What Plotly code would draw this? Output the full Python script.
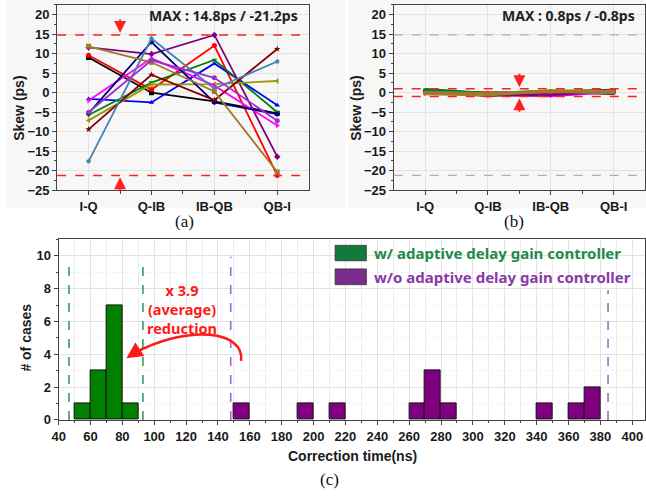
import plotly.graph_objects as go

W, H = 646, 501

# ---------------- data ----------------
pairs = ["I-Q", "Q-IB", "IB-QB", "QB-I"]
series_names = ["black", "red", "blue", "green", "purple", "olive",
                "magenta", "navy", "maroon", "steelblue", "tan", "violet"]
series_colors = ["#000000", "#ff0000", "#0000ff", "#008000", "#800080", "#9a9a00",
                 "#ff00ff", "#000080", "#800000", "#4682b4", "#a0782a", "#9932cc"]
series_symbols = ["square", "circle", "triangle-up", "triangle-down", "diamond", "triangle-left",
                  "triangle-right", "hexagon", "star", "pentagon", "square", "circle"]

skew_before = {
    "black":     [9.0, 0.0, -2.2, -5.3],
    "red":       [9.6, 0.8, 12.1, -21.2],
    "blue":      [-1.6, -2.5, 7.5, -3.2],
    "green":     [-5.7, 2.6, 8.4, -5.0],
    "purple":    [11.6, 9.9, 14.8, -16.4],
    "olive":     [-7.1, 2.1, 2.2, 3.0],
    "magenta":   [-2.0, 8.8, 1.8, -8.4],
    "navy":      [-5.3, 13.0, -2.5, -5.5],
    "maroon":    [-9.4, 4.6, -1.9, 11.2],
    "steelblue": [-17.6, 13.9, 1.0, 8.0],
    "tan":       [11.9, 7.8, 0.3, -20.3],
    "violet":    [-5.0, 8.3, 3.8, -7.2],
}
skew_after = {
    "black":     [0.2, -0.3, 0.1, 0.3],
    "red":       [0.1, -0.1, -0.2, 0.2],
    "blue":      [0.5, -0.4, 0.3, 0.0],
    "navy":      [0.6, -0.3, 0.2, 0.6],
    "maroon":    [0.3, -0.7, 0.3, -0.2],
    "violet":    [0.0, -0.5, -0.3, 0.5],
    "magenta":   [-0.3, -0.4, -0.8, 0.3],
    "purple":    [0.4, -0.6, -0.5, 0.5],
    "green":     [0.8, -0.2, 0.4, 0.1],
    "steelblue": [0.1, -0.2, 0.4, 0.0],
    "olive":     [-0.2, -0.5, 0.5, 0.4],
    "tan":       [-0.1, -0.3, 0.3, 0.2],
}
max_before = [14.8, -21.2]
max_after = [0.8, -0.8]
after_band = [1.0, -1.0]

bin_width = 10
with_bins = [50, 60, 70, 80]
with_counts = [1, 3, 7, 1]
without_bins = [150, 190, 210, 260, 270, 280, 340, 360, 370]
without_counts = [1, 1, 1, 1, 3, 1, 1, 1, 2]
with_limits = [46.5, 92.9]
without_limits = [148.0, 384.8]

# ---------------- figure ----------------
fig = go.Figure()
xi = list(range(len(pairs)))

for name, col, sym in zip(series_names, series_colors, series_symbols):
    fig.add_trace(go.Scatter(x=xi, y=skew_before[name], mode="lines+markers",
                             line=dict(color=col, width=1.8),
                             marker=dict(color=col, size=5, symbol=sym),
                             xaxis="x", yaxis="y", showlegend=False))
for name in skew_after:
    col = series_colors[series_names.index(name)]
    sym = series_symbols[series_names.index(name)]
    fig.add_trace(go.Scatter(x=xi, y=skew_after[name], mode="lines+markers",
                             line=dict(color=col, width=3),
                             marker=dict(color=col, size=4, symbol=sym),
                             xaxis="x2", yaxis="y2", showlegend=False))

fig.add_trace(go.Bar(x=[b + bin_width / 2 for b in with_bins], y=with_counts, width=bin_width,
                     marker=dict(color="#008000", line=dict(color="#111", width=1)),
                     xaxis="x3", yaxis="y3", showlegend=False))
fig.add_trace(go.Bar(x=[b + bin_width / 2 for b in without_bins], y=without_counts, width=bin_width,
                     marker=dict(color="#800080", line=dict(color="#111", width=1)),
                     xaxis="x3", yaxis="y3", showlegend=False))

tickfont = dict(family="Liberation Sans", size=13, color="#1a1a1a", weight="bold")
gridc = "#e3e3e3"
linec = "#444"


def px_x(p):
    return p / W


def px_y(p):
    return 1 - p / H


skew_x = dict(range=[-0.5, 3.5], tickvals=xi, ticktext=pairs, showgrid=True, gridcolor=gridc,
              zeroline=False, showline=True, linecolor=linec, linewidth=1.2, mirror=True,
              ticks="outside", ticklen=4, tickcolor=linec, tickfont=tickfont,
              minor=dict(tickvals=[0.5, 1.5, 2.5], ticks="outside", ticklen=3, tickcolor=linec, showgrid=False))
skew_y = dict(range=[-25, 22.5], tickvals=list(range(-25, 21, 5)), showgrid=True, gridcolor=gridc,
              zeroline=False, showline=True, linecolor=linec, linewidth=1.2, mirror=True,
              ticks="outside", ticklen=4, tickcolor=linec, tickfont=tickfont,
              minor=dict(dtick=2.5, tick0=0, ticks="outside", ticklen=2, tickcolor=linec, showgrid=False))

fig.update_layout(
    width=W, height=H, margin=dict(l=0, r=0, t=0, b=0),
    paper_bgcolor="white", plot_bgcolor="white", barmode="overlay", bargap=0,
    xaxis=dict(domain=[px_x(50.7), px_x(305)], anchor="y", **skew_x),
    yaxis=dict(domain=[px_y(193.3), px_y(5)], anchor="x", **skew_y),
    xaxis2=dict(domain=[px_x(391), px_x(645)], anchor="y2", **skew_x),
    yaxis2=dict(domain=[px_y(193.3), px_y(5)], anchor="x2", **skew_y),
    xaxis3=dict(domain=[px_x(52.2), px_x(645)], anchor="y3", range=[40, 408],
                tickvals=list(range(40, 401, 20)), showgrid=True, gridcolor=gridc,
                zeroline=False, showline=True, linecolor=linec, linewidth=1.2, mirror=True,
                ticks="outside", ticklen=4, tickcolor=linec, tickfont=tickfont,
                minor=dict(dtick=10, tick0=0, ticks="outside", ticklen=2, tickcolor=linec,
                           showgrid=True, gridcolor="#ececec")),
    yaxis3=dict(domain=[px_y(426.7), px_y(243.3)], anchor="x3", range=[0, 11],
                tickvals=list(range(0, 11, 2)), showgrid=True, gridcolor=gridc,
                zeroline=False, showline=True, linecolor=linec, linewidth=1.2, mirror=True,
                ticks="outside", ticklen=4, tickcolor=linec, tickfont=tickfont,
                minor=dict(dtick=1, tick0=0, ticks="outside", ticklen=2, tickcolor=linec,
                           showgrid=True, gridcolor="#efefef", griddash="dot")),
)

shapes = []
# light panel backgrounds for (a) and (b)
shapes.append(dict(type="rect", xref="paper", yref="paper", x0=0, x1=px_x(342), y0=px_y(212), y1=1,
                   fillcolor="#f7f7f7", line=dict(width=0), layer="below"))
shapes.append(dict(type="rect", xref="paper", yref="paper", x0=px_x(345), x1=1, y0=px_y(212), y1=1,
                   fillcolor="#f7f7f7", line=dict(width=0), layer="below"))
# max lines
for v in max_before:
    shapes.append(dict(type="line", xref="x domain", yref="y", x0=0, x1=1, y0=v, y1=v,
                       line=dict(color="#ff2020", width=1.5, dash="dash")))
    shapes.append(dict(type="line", xref="x2 domain", yref="y2", x0=0, x1=1, y0=v, y1=v,
                       line=dict(color="#b0b0b0", width=1.2, dash="dash")))
for v in after_band:
    shapes.append(dict(type="line", xref="x2 domain", yref="y2", x0=0, x1=1, y0=v, y1=v,
                       line=dict(color="#ff2020", width=1.5, dash="dash")))
# histogram range markers
for v, top in zip(with_limits, [9.8, 9.8]):
    shapes.append(dict(type="line", xref="x3", yref="y3", x0=v, x1=v, y0=0, y1=top,
                       line=dict(color="#3a9a5a", width=1.6, dash="dash")))
for v, top in zip(without_limits, [9.95, 7.9]):
    shapes.append(dict(type="line", xref="x3", yref="y3", x0=v, x1=v, y0=0, y1=top,
                       line=dict(color="#9b6cc8", width=1.6, dash="dash")))
# curved reduction arrow
shapes.append(dict(type="path", xref="x3", yref="y3",
                   path="M 154.5,3.6 C 157,5.4 122,5.9 86,4.0",
                   line=dict(color="#ff1a1a", width=2.5)))
# legend swatches
shapes.append(dict(type="rect", xref="paper", yref="paper", x0=px_x(331.7), x1=px_x(363.3),
                   y0=px_y(265), y1=px_y(249.3), fillcolor="#127a3c", line=dict(color="#333", width=0.8)))
shapes.append(dict(type="rect", xref="paper", yref="paper", x0=px_x(331.7), x1=px_x(363.3),
                   y0=px_y(289.3), y1=px_y(273.3), fillcolor="#7b2d8e", line=dict(color="#333", width=0.8)))
fig.update_layout(shapes=shapes)

ann = []
txtfont = dict(family="Noto Sans", size=14, color="#222", weight="bold")
ann.append(dict(xref="paper", yref="paper", x=px_x(296), y=px_y(16), xanchor="right", yanchor="middle",
                text="MAX : %.1fps / %.1fps" % (max_before[0], max_before[1]), showarrow=False, font=txtfont))
ann.append(dict(xref="paper", yref="paper", x=px_x(637), y=px_y(16), xanchor="right", yanchor="middle",
                text="MAX : %.1fps / %.1fps" % (max_after[0], max_after[1]), showarrow=False, font=txtfont))
# red arrows (a)
ann.append(dict(xref="x", yref="y", x=0.5, y=15.3, ax=0, ay=-15,
                text="", showarrow=True, arrowhead=2, arrowsize=1.2, arrowwidth=2, arrowcolor="#ff2020"))
ann.append(dict(xref="x", yref="y", x=0.5, y=-21.7, ax=0, ay=15, text="", showarrow=True,
                arrowhead=2, arrowsize=1.2, arrowwidth=2, arrowcolor="#ff2020"))
# red arrows (b)
ann.append(dict(xref="x2", yref="y2", x=1.5, y=1.4, ax=0, ay=-15, text="", showarrow=True,
                arrowhead=2, arrowsize=1.2, arrowwidth=2, arrowcolor="#ff2020"))
ann.append(dict(xref="x2", yref="y2", x=1.5, y=-1.4, ax=0, ay=15, text="", showarrow=True,
                arrowhead=2, arrowsize=1.2, arrowwidth=2, arrowcolor="#ff2020"))
# curved arrow head
ann.append(dict(xref="x3", yref="y3", x=82.5, y=3.75, ax=9, ay=-6, text="", showarrow=True,
                arrowhead=2, arrowsize=1.3, arrowwidth=2.5, arrowcolor="#ff1a1a"))
# reduction text (one block, three lines)
redfont = dict(family="Noto Sans", size=14.5, color="#ff1a1a", weight="bold")
ann.append(dict(xref="paper", yref="paper", x=px_x(176.7), y=px_y(314), xanchor="center", yanchor="middle",
                text="x 3.9<br>(average)<br>reduction", showarrow=False, font=redfont, align="center"))
# axis titles
titlefont = dict(family="Liberation Sans", size=14, color="#1a1a1a", weight="bold")
ann.append(dict(xref="paper", yref="paper", x=px_x(12.7), y=px_y(110), text="Skew (ps)", textangle=-90,
                showarrow=False, font=titlefont, xanchor="center", yanchor="middle"))
ann.append(dict(xref="paper", yref="paper", x=px_x(353.3), y=px_y(110), text="Skew (ps)", textangle=-90,
                showarrow=False, font=titlefont, xanchor="center", yanchor="middle"))
ann.append(dict(xref="paper", yref="paper", x=px_x(18.3), y=px_y(343), text="# of cases", textangle=-90,
                showarrow=False, font=titlefont, xanchor="center", yanchor="middle"))
ann.append(dict(xref="paper", yref="paper", x=px_x(349), y=px_y(463), text="Correction time(ns)",
                showarrow=False, font=titlefont, xanchor="center", yanchor="middle"))
# legend texts
legfont = dict(family="Noto Sans", size=15, weight="bold")
ann.append(dict(xref="paper", yref="paper", x=px_x(369), y=px_y(257), xanchor="left", yanchor="middle",
                text="w/ adaptive delay gain controller", showarrow=False,
                font=dict(color="#1e8a4a", **legfont)))
ann.append(dict(xref="paper", yref="paper", x=px_x(369), y=px_y(281.5), xanchor="left", yanchor="middle",
                text="w/o adaptive delay gain controller", showarrow=False,
                font=dict(color="#8a3aa8", **legfont)))
# captions
capfont = dict(family="Liberation Serif", size=17, color="#111")
for t, xx, yy in [("(a)", 179, 225), ("(b)", 513, 225), ("(c)", 326, 487)]:
    ann.append(dict(xref="paper", yref="paper", x=px_x(xx), y=px_y(yy), text=t, showarrow=False,
                    font=capfont, xanchor="center", yanchor="middle"))
fig.update_layout(annotations=ann)

fig.write_html("out.html", config={"displayModeBar": False},
               post_script="document.body.style.margin='0';document.body.style.overflow='hidden';")
